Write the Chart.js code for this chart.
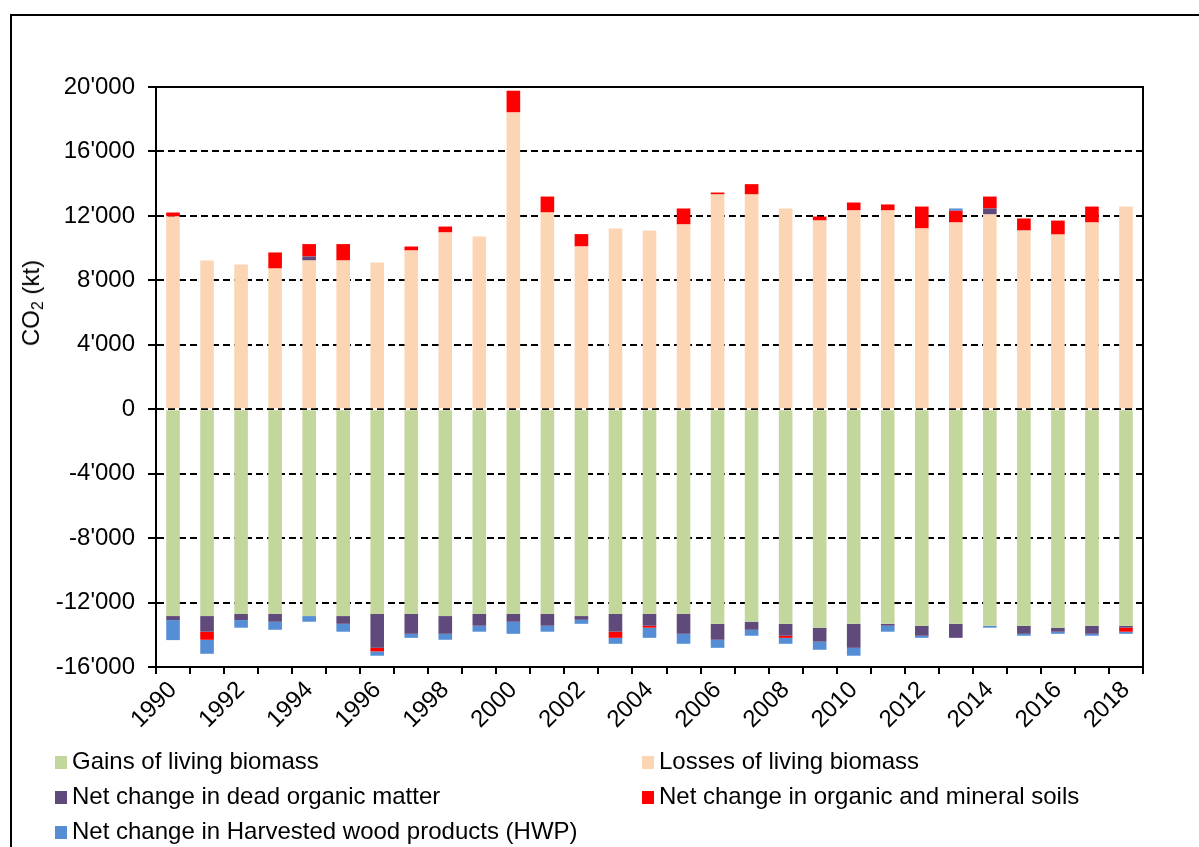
<!DOCTYPE html>
<html>
<head>
<meta charset="utf-8">
<script src="https://cdn.jsdelivr.net/npm/chart.js@4.4.1/dist/chart.umd.min.js"></script>
<style>
  html, body { margin: 0; padding: 0; background: #fff; overflow: hidden; }
  body { width: 1199px; height: 847px; position: relative; font-family: "Liberation Sans", Arial, sans-serif; }
  #frame { position: absolute; left: 10px; top: 14px; width: 1300px; height: 1000px; border: 2px solid #000; box-sizing: border-box; }
  #myChart { position: absolute; left: 0; top: 0; }
  #ytitle { position: absolute; left: 31px; top: 303px; transform: translate(-50%, -50%) rotate(-90deg); font-size: 24px; white-space: nowrap; color: #000; }
  #ytitle sub { font-size: 16px; vertical-align: -4px; line-height: 0; }
  .leg { position: absolute; font-size: 24px; color: #000; white-space: nowrap; line-height: 28px; }
  .leg span.box { display: inline-block; width: 12px; height: 13px; margin-right: 5px; vertical-align: 0px; }
</style>
</head>
<body>
<div id="frame"></div>
<canvas id="myChart" width="1199" height="847"></canvas>
<div id="ytitle">CO<sub>2</sub> (kt)</div>
<div id="legend"></div>
<script>
const years = [1990, 1991, 1992, 1993, 1994, 1995, 1996, 1997, 1998, 1999,
  2000, 2001, 2002, 2003, 2004, 2005, 2006, 2007, 2008, 2009,
  2010, 2011, 2012, 2013, 2014, 2015, 2016, 2017, 2018];

const gains = [-12840, -12840, -12710, -12710, -12840, -12840, -12710, -12710, -12840, -12710,
  -12710, -12710, -12840, -12710, -12710, -12710, -13320, -13190, -13320, -13560,
  -13320, -13320, -13440, -13320, -13440, -13440, -13560, -13440, -13440];

const losses = [11960, 9230, 8980, 8730, 9230, 9230, 9110, 9850, 10970, 10720,
  18420, 12210, 10100, 11220, 11090, 11470, 13330, 13330, 12460, 11710,
  12340, 12340, 11220, 11590, 12090, 11090, 10840, 11590, 12580];

const deadOrganic = [-250, -970, -380, -480, 250, -480, -2100, -1230, -1100, -730,
  -480, -730, -230, -1100, -730, -1230, -990, -500, -740, -870,
  -1490, -120, -620, -870, 370, -500, -250, -500, -120];

const soils = [250, -500, 0, 1000, 770, 1020, -220, 250, 370, 0,
  1350, 990, 770, -380, -120, 990, 120, 640, -130, 250,
  490, 370, 1360, 730, 740, 750, 870, 990, -250];

const hwp = [-1240, -870, -470, -500, -350, -490, -270, -250, -370, -370,
  -750, -370, -250, -370, -630, -620, -500, -370, -370, -500,
  -490, -370, -130, 140, -120, -120, -130, -120, -130];

const yTicks = [-16000, -12000, -8000, -4000, 0, 4000, 8000, 12000, 16000, 20000];

function fmt(v) {
  const s = String(Math.abs(v));
  const out = s.length > 3 ? s.slice(0, s.length - 3) + "'" + s.slice(-3) : s;
  return (v < 0 ? "-" : "") + out;
}

Chart.defaults.font.family = "'Liberation Sans', Arial, sans-serif";
Chart.defaults.font.size = 24;
Chart.defaults.color = "#000";

// solid box round the plot area (grid lines are dashed)
const frameBox = {
  id: "frameBox",
  afterDraw(chart) {
    const { ctx, chartArea } = chart;
    ctx.save();
    ctx.strokeStyle = "#000";
    ctx.lineWidth = 2;
    ctx.strokeRect(chartArea.left, chartArea.top, chartArea.right - chartArea.left, chartArea.bottom - chartArea.top);
    ctx.restore();
  },
};

const ctx = document.getElementById("myChart");
const myChart = new Chart(ctx, {
  type: "bar",
  plugins: [frameBox],
  data: {
    labels: years,
    datasets: [
      { label: "Gains of living biomass", data: gains, backgroundColor: "#C3D69B" },
      { label: "Losses of living biomass", data: losses, backgroundColor: "#FCD5B5" },
      { label: "Net change in dead organic matter", data: deadOrganic, backgroundColor: "#604A7B" },
      { label: "Net change in organic and mineral soils", data: soils, backgroundColor: "#FF0000" },
      { label: "Net change in Harvested wood products (HWP)", data: hwp, backgroundColor: "#558ED5" },
    ],
  },
  options: {
    responsive: false,
    animation: false,
    devicePixelRatio: 1,
    layout: { padding: { left: 0, right: 56, top: 87, bottom: 0 } },
    plugins: { legend: { display: false }, tooltip: { enabled: false } },
    datasets: { bar: { barPercentage: 0.4, categoryPercentage: 1, borderWidth: 0 } },
    scales: {
      x: {
        stacked: true,
        grid: { display: true, drawOnChartArea: false, drawTicks: true, tickLength: 7, color: "#000", lineWidth: 2, offset: true },
        border: { display: true, color: "#000", width: 2 },
        ticks: {
          autoSkip: false,
          minRotation: 45,
          maxRotation: 45,
          padding: 2,
          callback: (v, i) => (i % 2 === 0 ? String(years[i]) : ""),
        },
        afterFit: (scale) => { scale.height = 180; },
      },
      y: {
        stacked: true,
        min: yTicks[0],
        max: yTicks[yTicks.length - 1],
        afterBuildTicks: (scale) => { scale.ticks = yTicks.map((v) => ({ value: v })); },
        ticks: { padding: 13, callback: (v) => fmt(v) },
        grid: { color: "#000", lineWidth: 2, tickLength: 8, tickBorderDash: [], tickColor: "#000", tickWidth: 2 },
        border: { display: true, color: "#000", width: 2, dash: [7, 4] },
        afterFit: (scale) => { scale.width = 156; },
      },
    },
  },
});

// legend built from the datasets, two columns like the original
const legendPos = [[55, 761], [642, 761], [55, 796], [642, 796], [55, 831]];
const legendEl = document.getElementById("legend");
myChart.data.datasets.forEach((ds, i) => {
  const div = document.createElement("div");
  div.className = "leg";
  div.style.left = legendPos[i][0] + "px";
  div.style.top = legendPos[i][1] - 14 + "px";
  div.innerHTML = '<span class="box" style="background:' + ds.backgroundColor + '"></span>' + ds.label;
  legendEl.appendChild(div);
});
</script>
</body>
</html>
